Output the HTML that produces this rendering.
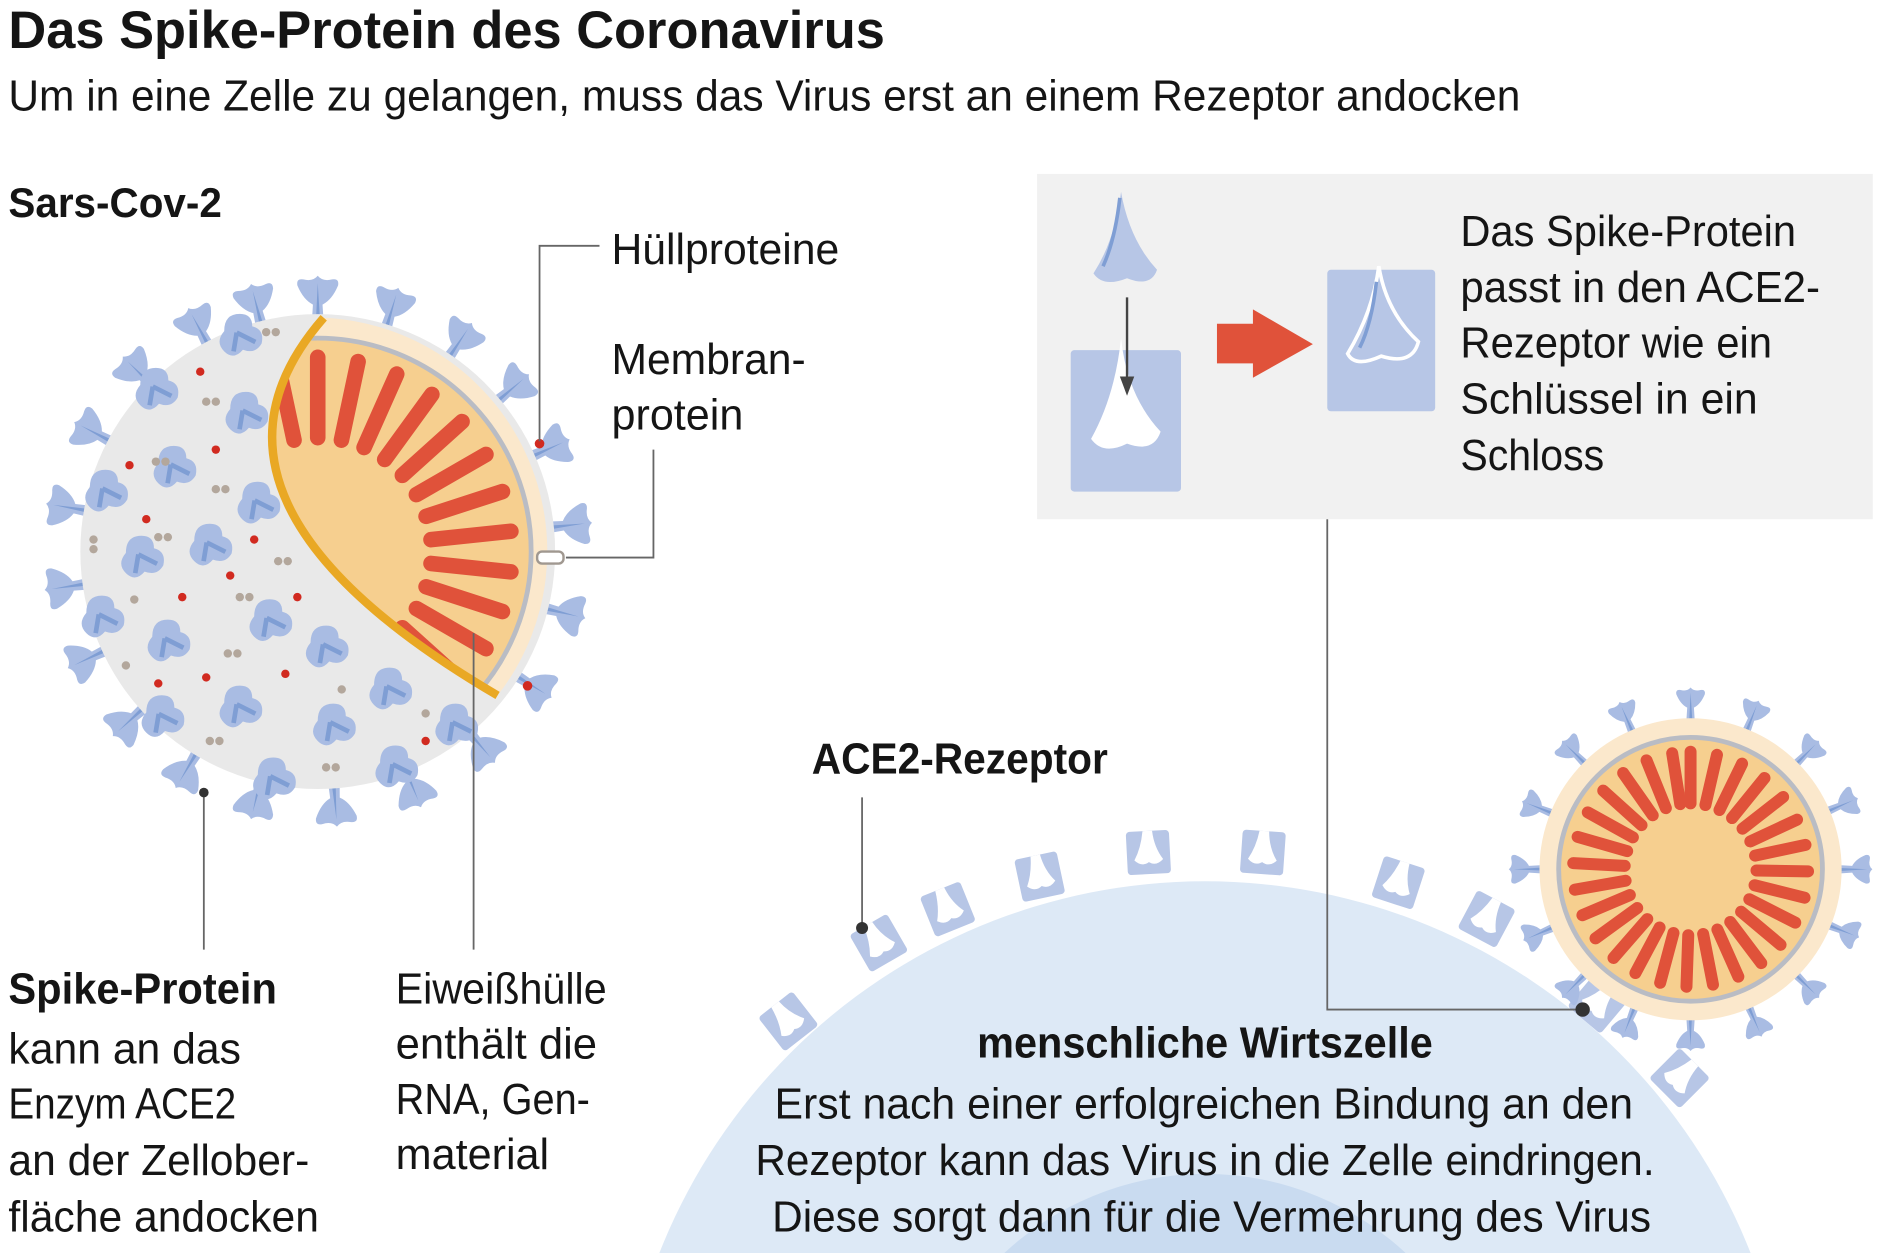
<!DOCTYPE html>
<html><head><meta charset="utf-8"><style>
html,body{margin:0;padding:0;background:#fff;width:1880px;height:1253px;overflow:hidden}
svg{display:block;overflow:hidden}
text{font-family:"Liberation Sans",sans-serif;fill:#151515}
.b{font-weight:bold}
</style></head><body>
<svg width="1880" height="1253" viewBox="0 0 1568 1045" xmlns="http://www.w3.org/2000/svg">
<defs>
<symbol id="sp" overflow="visible"><path d="M-5,2 L-4,-14 Q-12,-18 -17,-30 Q-18,-36 -12,-35 Q-4,-33 0,-38 Q4,-33 12,-35 Q18,-36 17,-30 Q12,-18 4,-14 L5,2 Z" fill="#a9bce3"/><path d="M-1.5,0 L0,-32 L2,0Z" fill="#7f9ed4"/></symbol>
<symbol id="bl" overflow="visible"><g transform="scale(1.3)"><path d="M0,-14 Q8,-14 8,-6 Q16,-4 14,5 Q10,12 2,9 Q-4,16 -10,10 Q-16,4 -10,-3 Q-10,-14 0,-14Z" fill="#a9bce3"/><path d="M-2,-2 L10,4 M-2,-2 L-4,10" stroke="#7f9ed4" stroke-width="3"/></g></symbol>
<symbol id="rc" overflow="visible"><rect x="-18" y="-22" width="36" height="36" rx="3" fill="#b7c6e6"/><path d="M-4,-22 Q-6,-8 -12,2 Q-6,8 0,4 Q6,8 12,2 Q5,-8 4,-22Z" fill="#fff"/></symbol>
<clipPath id="wedge"><path d="M270,265 A195,195 0 0 1 415,580 Q137,417 270,265Z"/></clipPath>
</defs>

<text x="7" y="40" class="b" font-size="44" textLength="731" lengthAdjust="spacingAndGlyphs">Das Spike-Protein des Coronavirus</text>
<text x="7" y="92" font-size="36" textLength="1261" lengthAdjust="spacingAndGlyphs">Um in eine Zelle zu gelangen, muss das Virus erst an einem Rezeptor andocken</text>
<text x="7" y="181" class="b" font-size="35" textLength="178" lengthAdjust="spacingAndGlyphs">Sars-Cov-2</text>

<circle cx="1005" cy="1224" r="489" fill="#dde9f6"/>
<circle cx="1005" cy="1224" r="245" fill="#c9dbf0"/>
<g>
<use href="#rc" transform="translate(660,855) rotate(-38)"/>
<use href="#rc" transform="translate(735,790) rotate(-30)"/>
<use href="#rc" transform="translate(792,762) rotate(-22)"/>
<use href="#rc" transform="translate(868,735) rotate(-12)"/>
<use href="#rc" transform="translate(958,715) rotate(-3)"/>
<use href="#rc" transform="translate(1053,715) rotate(4)"/>
<use href="#rc" transform="translate(1165,740) rotate(18)"/>
<use href="#rc" transform="translate(1238,770) rotate(28)"/>
<use href="#rc" transform="translate(1330,840) rotate(40)"/>
<use href="#rc" transform="translate(1398,902) rotate(45)"/>
</g>

<g>
<g transform="translate(265,460)">
<use href="#sp" transform="rotate(0) translate(0,-192)"/><use href="#sp" transform="rotate(17) translate(0,-192)"/><use href="#sp" transform="rotate(34) translate(0,-192)"/><use href="#sp" transform="rotate(50) translate(0,-192)"/><use href="#sp" transform="rotate(66) translate(0,-192)"/><use href="#sp" transform="rotate(84) translate(0,-192)"/><use href="#sp" transform="rotate(104) translate(0,-192)"/><use href="#sp" transform="rotate(122) translate(0,-192)"/><use href="#sp" transform="rotate(140) translate(0,-192)"/><use href="#sp" transform="rotate(158) translate(0,-192)"/><use href="#sp" transform="rotate(176) translate(0,-192)"/><use href="#sp" transform="rotate(194) translate(0,-192)"/><use href="#sp" transform="rotate(211) translate(0,-192)"/><use href="#sp" transform="rotate(228) translate(0,-192)"/><use href="#sp" transform="rotate(245) translate(0,-192)"/><use href="#sp" transform="rotate(262) translate(0,-192)"/><use href="#sp" transform="rotate(280) translate(0,-192)"/><use href="#sp" transform="rotate(298) translate(0,-192)"/><use href="#sp" transform="rotate(315) translate(0,-192)"/><use href="#sp" transform="rotate(332) translate(0,-192)"/><use href="#sp" transform="rotate(346) translate(0,-192)"/>
</g>
<circle cx="265" cy="460" r="198" fill="#e9e9e9"/>
<g>
<use href="#bl" x="130" y="325"/><use href="#bl" x="205" y="345"/><use href="#bl" x="145" y="390"/><use href="#bl" x="88" y="410"/><use href="#bl" x="175" y="455"/><use href="#bl" x="118" y="465"/><use href="#bl" x="215" y="420"/><use href="#bl" x="85" y="515"/><use href="#bl" x="140" y="535"/><use href="#bl" x="225" y="518"/><use href="#bl" x="200" y="590"/><use href="#bl" x="135" y="598"/><use href="#bl" x="272" y="540"/><use href="#bl" x="278" y="605"/><use href="#bl" x="325" y="575"/><use href="#bl" x="330" y="640"/><use href="#bl" x="228" y="650"/><use href="#bl" x="200" y="280"/><use href="#bl" x="380" y="605"/>
</g>
<g fill="#d12a20">
<circle cx="167" cy="310" r="3.5"/><circle cx="235" cy="335" r="3.5"/><circle cx="180" cy="375" r="3.5"/><circle cx="108" cy="388" r="3.5"/><circle cx="122" cy="433" r="3.5"/><circle cx="212" cy="450" r="3.5"/><circle cx="152" cy="498" r="3.5"/><circle cx="192" cy="480" r="3.5"/><circle cx="248" cy="498" r="3.5"/><circle cx="132" cy="570" r="3.5"/><circle cx="172" cy="565" r="3.5"/><circle cx="238" cy="562" r="3.5"/><circle cx="355" cy="618" r="3.5"/>
</g>
<g fill="#b3a79c">
<circle cx="222" cy="277" r="3.5"/><circle cx="230" cy="277" r="3.5"/><circle cx="172" cy="335" r="3.5"/><circle cx="180" cy="335" r="3.5"/><circle cx="130" cy="385" r="3.5"/><circle cx="138" cy="385" r="3.5"/><circle cx="180" cy="408" r="3.5"/><circle cx="188" cy="408" r="3.5"/><circle cx="78" cy="450" r="3.5"/><circle cx="78" cy="458" r="3.5"/><circle cx="132" cy="448" r="3.5"/><circle cx="140" cy="448" r="3.5"/><circle cx="232" cy="468" r="3.5"/><circle cx="240" cy="468" r="3.5"/><circle cx="112" cy="500" r="3.5"/><circle cx="200" cy="498" r="3.5"/><circle cx="208" cy="498" r="3.5"/><circle cx="105" cy="555" r="3.5"/><circle cx="190" cy="545" r="3.5"/><circle cx="198" cy="545" r="3.5"/><circle cx="285" cy="575" r="3.5"/><circle cx="175" cy="618" r="3.5"/><circle cx="183" cy="618" r="3.5"/><circle cx="272" cy="640" r="3.5"/><circle cx="280" cy="640" r="3.5"/><circle cx="355" cy="595" r="3.5"/>
</g>
<g clip-path="url(#wedge)">
<circle cx="265" cy="460" r="200" fill="#fbe8cc"/>
<circle cx="265" cy="460" r="178" fill="#f6cf8f" stroke="#b9bcc4" stroke-width="4"/>
<g transform="translate(265,460)" stroke="#e0523a" stroke-width="13" stroke-linecap="round">
<line x1="0" y1="-162" x2="0" y2="-95" transform="rotate(0)"/><line x1="0" y1="-162" x2="0" y2="-95" transform="rotate(12)"/><line x1="0" y1="-162" x2="0" y2="-95" transform="rotate(24)"/><line x1="0" y1="-162" x2="0" y2="-95" transform="rotate(36)"/><line x1="0" y1="-162" x2="0" y2="-95" transform="rotate(48)"/><line x1="0" y1="-162" x2="0" y2="-95" transform="rotate(60)"/><line x1="0" y1="-162" x2="0" y2="-95" transform="rotate(72)"/><line x1="0" y1="-162" x2="0" y2="-95" transform="rotate(84)"/><line x1="0" y1="-162" x2="0" y2="-95" transform="rotate(96)"/><line x1="0" y1="-162" x2="0" y2="-95" transform="rotate(108)"/><line x1="0" y1="-162" x2="0" y2="-95" transform="rotate(120)"/><line x1="0" y1="-162" x2="0" y2="-95" transform="rotate(132)"/><line x1="0" y1="-162" x2="0" y2="-95" transform="rotate(144)"/><line x1="0" y1="-162" x2="0" y2="-95" transform="rotate(-12)"/>
</g>
</g>
<path d="M270,265 Q137,417 415,580" fill="none" stroke="#e9a824" stroke-width="7"/>
<g fill="#d12a20"><circle cx="450" cy="370" r="4"/><circle cx="440" cy="572" r="4"/></g>
<rect x="448" y="460" width="22" height="10" rx="4" fill="#fff" stroke="#a09890" stroke-width="2"/>
</g>

<g transform="translate(1410,725)">
<use href="#sp" transform="rotate(0) translate(0,-125) scale(.7)"/><use href="#sp" transform="rotate(22) translate(0,-125) scale(.7)"/><use href="#sp" transform="rotate(45) translate(0,-125) scale(.7)"/><use href="#sp" transform="rotate(67) translate(0,-125) scale(.7)"/><use href="#sp" transform="rotate(90) translate(0,-125) scale(.7)"/><use href="#sp" transform="rotate(112) translate(0,-125) scale(.7)"/><use href="#sp" transform="rotate(135) translate(0,-125) scale(.7)"/><use href="#sp" transform="rotate(157) translate(0,-125) scale(.7)"/><use href="#sp" transform="rotate(180) translate(0,-125) scale(.7)"/><use href="#sp" transform="rotate(202) translate(0,-125) scale(.7)"/><use href="#sp" transform="rotate(225) translate(0,-125) scale(.7)"/><use href="#sp" transform="rotate(247) translate(0,-125) scale(.7)"/><use href="#sp" transform="rotate(270) translate(0,-125) scale(.7)"/><use href="#sp" transform="rotate(292) translate(0,-125) scale(.7)"/><use href="#sp" transform="rotate(315) translate(0,-125) scale(.7)"/><use href="#sp" transform="rotate(337) translate(0,-125) scale(.7)"/>
<circle r="126" fill="#fbe8cc"/>
<circle r="110" fill="#f6cf8f" stroke="#b9bcc4" stroke-width="4"/>
<g stroke="#e0523a" stroke-width="10" stroke-linecap="round">
<line y1="-98" y2="-55" transform="rotate(0)"/><line y1="-98" y2="-55" transform="rotate(13)"/><line y1="-98" y2="-55" transform="rotate(26)"/><line y1="-98" y2="-55" transform="rotate(39)"/><line y1="-98" y2="-55" transform="rotate(52)"/><line y1="-98" y2="-55" transform="rotate(65)"/><line y1="-98" y2="-55" transform="rotate(78)"/><line y1="-98" y2="-55" transform="rotate(91)"/><line y1="-98" y2="-55" transform="rotate(104)"/><line y1="-98" y2="-55" transform="rotate(117)"/><line y1="-98" y2="-55" transform="rotate(130)"/><line y1="-98" y2="-55" transform="rotate(143)"/><line y1="-98" y2="-55" transform="rotate(156)"/><line y1="-98" y2="-55" transform="rotate(169)"/><line y1="-98" y2="-55" transform="rotate(182)"/><line y1="-98" y2="-55" transform="rotate(195)"/><line y1="-98" y2="-55" transform="rotate(208)"/><line y1="-98" y2="-55" transform="rotate(221)"/><line y1="-98" y2="-55" transform="rotate(234)"/><line y1="-98" y2="-55" transform="rotate(247)"/><line y1="-98" y2="-55" transform="rotate(260)"/><line y1="-98" y2="-55" transform="rotate(273)"/><line y1="-98" y2="-55" transform="rotate(286)"/><line y1="-98" y2="-55" transform="rotate(299)"/><line y1="-98" y2="-55" transform="rotate(312)"/><line y1="-98" y2="-55" transform="rotate(325)"/><line y1="-98" y2="-55" transform="rotate(338)"/><line y1="-98" y2="-55" transform="rotate(351)"/>
</g>
</g>

<rect x="865" y="145" width="697" height="288" fill="#f1f1f1"/>
<path d="M935,160 Q942,200 965,225 Q960,240 940,232 Q920,240 912,228 Q930,200 935,160Z" fill="#b7c6e6"/>
<path d="M934,165 Q930,200 920,222" stroke="#7f9ed4" stroke-width="3" fill="none"/>
<rect x="893" y="292" width="92" height="118" rx="3" fill="#b7c6e6"/>
<path d="M935,282 Q940,330 968,360 Q962,378 940,370 Q920,380 910,366 Q930,330 935,282Z" fill="#fff"/>
<line x1="940" y1="248" x2="940" y2="318" stroke="#444" stroke-width="2"/>
<path d="M934,314 L940,330 L946,314Z" fill="#444"/>
<path d="M1015,270 L1045,270 L1045,258 L1095,287 L1045,315 L1045,303 L1015,303Z" fill="#e0523a"/>
<rect x="1107" y="225" width="90" height="118" rx="3" fill="#b7c6e6"/>
<path d="M1150,222 Q1156,260 1183,285 Q1178,305 1152,297 Q1130,307 1124,295 Q1145,260 1150,222Z" fill="#b7c6e6" stroke="#fff" stroke-width="3"/>
<path d="M1148,235 Q1144,270 1134,290" stroke="#7f9ed4" stroke-width="3" fill="none"/>
<g font-size="36">
<text x="1218" y="205" textLength="280" lengthAdjust="spacingAndGlyphs">Das Spike-Protein</text>
<text x="1218" y="252" textLength="300" lengthAdjust="spacingAndGlyphs">passt in den ACE2-</text>
<text x="1218" y="298" textLength="260" lengthAdjust="spacingAndGlyphs">Rezeptor wie ein</text>
<text x="1218" y="345" textLength="248" lengthAdjust="spacingAndGlyphs">Schlüssel in ein</text>
<text x="1218" y="392" textLength="120" lengthAdjust="spacingAndGlyphs">Schloss</text>
</g>

<g stroke="#666" stroke-width="1.5" fill="none">
<path d="M500,205 H450 V368"/>
<path d="M545,375 V465 H472"/>
<path d="M170,660 V792"/>
<path d="M395,528 V792"/>
<path d="M719,665 V773"/>
<path d="M1107,433 V842 H1320"/>
</g>
<g fill="#333"><circle cx="170" cy="661" r="4"/><circle cx="719" cy="774" r="5"/><circle cx="1320" cy="842" r="6"/></g>

<g font-size="36">
<text x="510" y="220" textLength="190" lengthAdjust="spacingAndGlyphs">Hüllproteine</text>
<text x="510" y="312" textLength="162" lengthAdjust="spacingAndGlyphs">Membran-</text>
<text x="510" y="358" textLength="110" lengthAdjust="spacingAndGlyphs">protein</text>
<text x="677" y="645" class="b" textLength="247" lengthAdjust="spacingAndGlyphs">ACE2-Rezeptor</text>
<text x="7" y="837" class="b" textLength="224" lengthAdjust="spacingAndGlyphs">Spike-Protein</text>
<text x="7" y="887" textLength="194" lengthAdjust="spacingAndGlyphs">kann an das</text>
<text x="7" y="933" textLength="190" lengthAdjust="spacingAndGlyphs">Enzym ACE2</text>
<text x="7" y="980" textLength="251" lengthAdjust="spacingAndGlyphs">an der Zellober-</text>
<text x="7" y="1027" textLength="259" lengthAdjust="spacingAndGlyphs">fläche andocken</text>
<text x="330" y="837" textLength="176" lengthAdjust="spacingAndGlyphs">Eiweißhülle</text>
<text x="330" y="883" textLength="168" lengthAdjust="spacingAndGlyphs">enthält die</text>
<text x="330" y="929" textLength="162" lengthAdjust="spacingAndGlyphs">RNA, Gen-</text>
<text x="330" y="975" textLength="128" lengthAdjust="spacingAndGlyphs">material</text>
<text x="815" y="882" class="b" textLength="380" lengthAdjust="spacingAndGlyphs">menschliche Wirtszelle</text>
<text x="646" y="933" textLength="716" lengthAdjust="spacingAndGlyphs">Erst nach einer erfolgreichen Bindung an den</text>
<text x="630" y="980" textLength="750" lengthAdjust="spacingAndGlyphs">Rezeptor kann das Virus in die Zelle eindringen.</text>
<text x="644" y="1027" textLength="733" lengthAdjust="spacingAndGlyphs">Diese sorgt dann für die Vermehrung des Virus</text>
</g>
</svg>
</body></html>
